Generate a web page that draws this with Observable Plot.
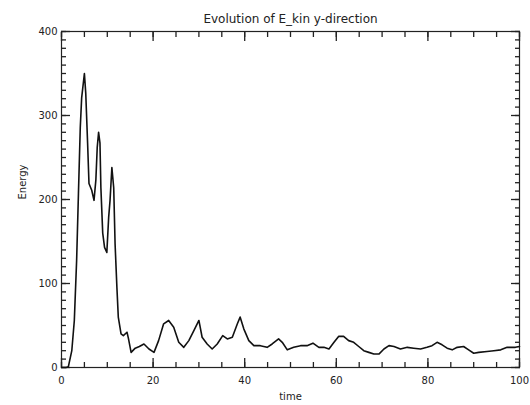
<!DOCTYPE html>
<html>
<head>
<meta charset="utf-8">
<script src="https://cdn.jsdelivr.net/npm/d3@7"></script>
<script src="https://cdn.jsdelivr.net/npm/@observablehq/plot@0.6"></script>
<style>
  html, body { margin: 0; padding: 0; background: #fff; }
  #chart svg { display: block; }
</style>
</head>
<body>
<div id="chart"></div>
<script>
const titleText = "Evolution of E_kin y-direction";
const xLabel = "time";
const yLabel = "Energy";

const time = [0, 1, 1.5, 2.25, 2.8, 3.3, 3.7, 4.1, 4.4, 5.0, 5.3, 5.7, 6.0, 6.6, 7.1, 7.5, 7.8, 8.1, 8.4, 8.6,
  9.0, 9.4, 9.9, 10.3, 10.6, 11.0, 11.4, 11.7, 12.1, 12.4, 13.0, 13.5, 14.3, 14.6, 15.2, 16.1, 17.0, 18.0, 19.1, 20.2,
  21.2, 22.3, 23.4, 24.5, 25.6, 26.7, 27.8, 28.9, 30.0, 30.7, 31.8, 32.9, 34.0, 35.2, 36.2, 37.3, 38.4, 39.0, 39.8, 40.9,
  42.0, 43.4, 44.9, 46.0, 47.4, 48.2, 49.3, 50.7, 52.2, 53.6, 54.9, 56.2, 57.3, 58.4, 59.5, 60.5, 61.6, 62.7, 63.8, 64.9,
  66.0, 67.1, 68.2, 69.3, 70.4, 71.5, 72.6, 74.0, 75.5, 76.9, 78.4, 79.8, 80.9, 82.0, 83.1, 84.2, 85.3, 86.4, 87.8, 88.9,
  90.0, 91.1, 92.9, 94.4, 95.9, 97.3, 99.1, 100];
const energy = [0, 0, 1, 20, 56, 127, 207, 286, 321, 350, 326, 267, 219, 211, 199, 223, 262, 280, 267, 214,
  160, 143, 137, 179, 199, 238, 214, 147, 95, 60, 40, 38, 42, 35, 18, 23, 25, 28, 22, 18,
  32, 52, 56, 48, 30, 24, 32, 44, 56, 36, 28, 22, 28, 38, 34, 36, 52, 60, 46, 32,
  26, 26, 24, 28, 34, 30, 21, 24, 26, 26, 29, 24, 24, 22, 30, 37, 37, 32, 30, 25,
  20, 18, 16, 16, 22, 26, 25, 22, 24, 23, 22, 24, 26, 30, 27, 23, 21, 24, 25, 21,
  17, 18, 19, 20, 21, 24, 24, 25];

const xMajor = [0, 20, 40, 60, 80, 100];
const xMinor = [0, 5, 10, 15, 20, 25, 30, 35, 40, 45, 50, 55, 60, 65, 70, 75, 80, 85, 90, 95, 100];
const yMajor = [0, 100, 200, 300, 400];
const yMinor = [0, 10, 20, 30, 40, 50, 60, 70, 80, 90, 100, 110, 120, 130, 140, 150, 160, 170, 180, 190, 200,
  210, 220, 230, 240, 250, 260, 270, 280, 290, 300, 310, 320, 330, 340, 350, 360, 370, 380, 390, 400];

const data = time.map((t, i) => ({t, e: energy[i]}));
const ink = "#222";
const tickInk = "#222";

const chart = Plot.plot({
  width: 530,
  height: 405,
  marginLeft: 61,
  marginRight: 11,
  marginTop: 31,
  marginBottom: 38,
  style: {fontFamily: "DejaVu Sans, sans-serif", fontSize: "10px", color: ink, background: "#fff"},
  x: {domain: [0, 100], axis: null},
  y: {domain: [0, 400], axis: null},
  marks: [
    Plot.frame({stroke: ink, strokeWidth: 1.2}),
    // inward ticks on all four sides (negative tickSize = inside the frame)
    Plot.axisX(xMinor, {anchor: "bottom", tickSize: -5, tickFormat: () => "", label: null, stroke: tickInk, strokeWidth: 1.3}),
    Plot.axisX(xMinor, {anchor: "top", tickSize: -5, tickFormat: () => "", label: null, stroke: tickInk, strokeWidth: 1.3}),
    Plot.axisX(xMajor, {anchor: "bottom", tickSize: -9, tickFormat: () => "", label: null, stroke: tickInk, strokeWidth: 1.3}),
    Plot.axisX(xMajor, {anchor: "top", tickSize: -9, tickFormat: () => "", label: null, stroke: tickInk, strokeWidth: 1.3}),
    Plot.axisY(yMinor, {anchor: "left", tickSize: -5, tickFormat: () => "", label: null, stroke: tickInk, strokeWidth: 1.3}),
    Plot.axisY(yMinor, {anchor: "right", tickSize: -5, tickFormat: () => "", label: null, stroke: tickInk, strokeWidth: 1.3}),
    Plot.axisY(yMajor, {anchor: "left", tickSize: -9, tickFormat: () => "", label: null, stroke: tickInk, strokeWidth: 1.3}),
    Plot.axisY(yMajor, {anchor: "right", tickSize: -9, tickFormat: () => "", label: null, stroke: tickInk, strokeWidth: 1.3}),
    Plot.axisX(xMajor, {anchor: "bottom", tickSize: 0, tickPadding: 9, label: null}),
    Plot.axisY(yMajor, {anchor: "left", tickSize: 0, tickPadding: 4, label: null}),
    Plot.line(data, {x: "t", y: "e", stroke: "#111", strokeWidth: 1.6}),
    Plot.text([titleText], {frameAnchor: "top", dy: -12, lineAnchor: "middle", fontSize: 12, fill: ink}),
    Plot.text([xLabel], {frameAnchor: "bottom", dy: 29, lineAnchor: "middle", fontSize: 10, fill: ink}),
    Plot.text([yLabel], {frameAnchor: "left", dx: -39, rotate: -90, lineAnchor: "middle", fontSize: 10, fill: ink})
  ]
});
document.getElementById("chart").append(chart);
</script>
</body>
</html>
